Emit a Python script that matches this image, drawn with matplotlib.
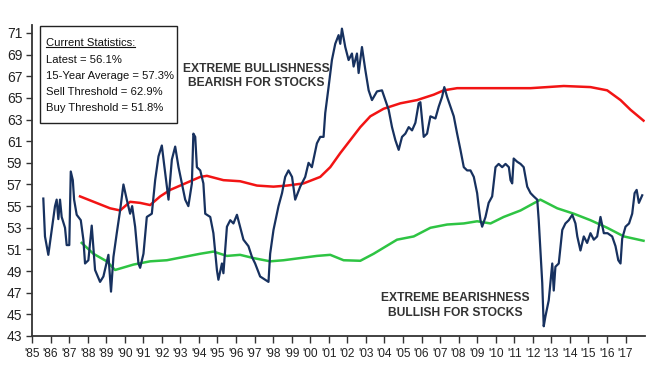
import matplotlib
matplotlib.use("Agg")
import matplotlib.pyplot as plt
from matplotlib import font_manager

# sentiment series (percent)
years = [1985.61, 1985.70, 1985.88, 1986.24, 1986.33, 1986.42, 1986.51, 1986.60, 1986.78, 1986.87,
         1987.01, 1987.09, 1987.20, 1987.27, 1987.41, 1987.63, 1987.77, 1987.86, 1988.04, 1988.22,
         1988.40, 1988.67, 1988.85, 1989.12, 1989.26, 1989.39, 1989.57, 1989.75, 1989.93, 1990.11,
         1990.29, 1990.40, 1990.56, 1990.74, 1990.83, 1991.01, 1991.19, 1991.46, 1991.64, 1991.82,
         1992.00, 1992.12, 1992.36, 1992.54, 1992.72, 1992.90, 1993.08, 1993.26, 1993.43, 1993.62,
         1993.70, 1993.80, 1993.89, 1994.07, 1994.24, 1994.34, 1994.61, 1994.78, 1994.97, 1995.05,
         1995.24, 1995.32, 1995.51, 1995.69, 1995.86, 1996.05, 1996.22, 1996.40, 1996.67, 1996.86,
         1997.03, 1997.30, 1997.57, 1997.75, 1997.84, 1998.02, 1998.29, 1998.48, 1998.65, 1998.83,
         1999.02, 1999.19, 1999.46, 1999.73, 1999.91, 2000.09, 2000.36, 2000.54, 2000.72, 2000.81,
         2000.99, 2001.17, 2001.35, 2001.53, 2001.62, 2001.71, 2001.89, 2002.07, 2002.25, 2002.34,
         2002.52, 2002.61, 2002.79, 2002.97, 2003.15, 2003.33, 2003.60, 2003.87, 2004.05, 2004.23,
         2004.41, 2004.59, 2004.77, 2004.95, 2005.13, 2005.31, 2005.49, 2005.67, 2005.85, 2005.94,
         2006.12, 2006.30, 2006.48, 2006.75, 2006.93, 2007.11, 2007.23, 2007.38, 2007.56, 2007.74,
         2007.92, 2008.10, 2008.28, 2008.46, 2008.64, 2008.82, 2009.00, 2009.08, 2009.18, 2009.27,
         2009.45, 2009.62, 2009.81, 2009.99, 2010.16, 2010.35, 2010.53, 2010.71, 2010.80, 2010.89,
         2010.97, 2011.16, 2011.34, 2011.51, 2011.70, 2011.88, 2012.05, 2012.24, 2012.32, 2012.41,
         2012.51, 2012.59, 2012.68, 2012.86, 2013.05, 2013.13, 2013.22, 2013.40, 2013.59, 2013.76,
         2013.94, 2014.13, 2014.30, 2014.40, 2014.57, 2014.75, 2014.93, 2015.11, 2015.29, 2015.47,
         2015.65, 2015.83, 2016.03, 2016.28, 2016.46, 2016.61, 2016.73, 2016.82, 2017.00, 2017.19,
         2017.36, 2017.49, 2017.60, 2017.72, 2017.90]
sentiment = [55.7, 52.2, 50.5, 55.0, 55.6, 53.8, 55.6, 54.0, 53.0, 51.4,
             51.4, 58.2, 57.4, 55.6, 54.2, 53.7, 51.9, 49.7, 50.0, 53.2,
             49.1, 48.0, 48.5, 50.5, 47.1, 50.3, 52.5, 54.6, 57.0, 55.6,
             54.3, 55.0, 53.1, 49.7, 49.3, 50.6, 54.0, 54.3, 57.4, 59.6,
             60.6, 58.9, 55.6, 59.3, 60.5, 58.6, 57.1, 55.6, 55.0, 57.1,
             61.7, 61.4, 58.6, 58.3, 57.1, 54.3, 54.0, 52.5, 49.1, 48.2,
             49.7, 48.8, 53.1, 53.7, 53.4, 54.2, 53.1, 51.9, 51.3, 50.3,
             49.7, 48.5, 48.2, 48.0, 50.6, 52.8, 55.0, 56.2, 57.7, 58.3,
             57.7, 55.6, 56.8, 57.7, 59.0, 58.6, 60.8, 61.4, 61.4, 63.6,
             66.0, 68.5, 70.0, 70.8, 70.0, 71.4, 69.7, 68.5, 69.1, 67.9,
             69.1, 67.3, 69.7, 67.6, 65.7, 64.8, 65.6, 65.7, 64.8, 63.9,
             62.3, 61.1, 60.2, 61.4, 61.7, 62.3, 62.0, 62.7, 64.5, 64.6,
             61.4, 61.7, 63.3, 63.1, 64.2, 65.1, 66.0, 65.1, 64.2, 63.3,
             61.7, 60.2, 58.6, 58.3, 58.3, 57.7, 56.2, 55.0, 53.7, 53.1,
             54.0, 55.3, 55.9, 58.6, 58.9, 58.6, 58.9, 58.6, 57.4, 57.1,
             59.4, 59.1, 58.9, 58.6, 56.8, 56.2, 55.9, 55.6, 53.7, 50.9,
             47.9, 43.9, 44.8, 46.3, 49.7, 47.2, 49.4, 49.7, 52.8, 53.4,
             53.7, 54.2, 53.4, 52.2, 50.9, 52.2, 51.6, 52.5, 51.9, 52.2,
             54.0, 52.5, 52.5, 52.2, 51.3, 50.0, 49.7, 52.0, 53.1, 53.4,
             54.3, 56.2, 56.5, 55.3, 56.0]

sell_years = [1987.59, 1989.21, 1989.75, 1990.29, 1990.83, 1991.37, 1991.91, 1992.45, 1992.99, 1993.53,
              1994.07, 1994.43, 1995.32, 1996.22, 1997.13, 1998.02, 1998.75, 1999.64, 2000.54, 2001.08,
              2001.62, 2002.16, 2002.70, 2003.24, 2003.96, 2004.86, 2005.76, 2006.66, 2007.20, 2007.92,
              2009.18, 2010.97, 2011.88, 2012.78, 2013.67, 2015.11, 2016.01, 2016.73, 2017.27, 2017.97]
sell_threshold = [55.9, 54.8, 54.6, 55.4, 55.3, 55.1, 55.9, 56.5, 56.9, 57.3,
                  57.7, 57.8, 57.4, 57.3, 56.9, 56.8, 56.9, 57.1, 57.7, 58.6,
                  59.9, 61.1, 62.3, 63.3, 64.0, 64.5, 64.8, 65.3, 65.7, 65.9,
                  65.9, 65.9, 65.9, 66.0, 66.1, 66.0, 65.7, 64.8, 63.9, 62.9]

buy_years = [1987.68, 1988.31, 1989.03, 1989.48, 1990.47, 1991.37, 1992.27, 1993.17, 1994.07, 1994.78,
             1995.51, 1996.22, 1996.94, 1997.84, 1998.56, 1999.46, 2000.36, 2001.08, 2001.80, 2002.70,
             2003.42, 2004.68, 2005.58, 2006.48, 2007.38, 2008.28, 2009.00, 2009.72, 2010.43, 2011.34,
             2012.41, 2013.32, 2014.21, 2015.11, 2016.01, 2016.91, 2017.97]
buy_threshold = [51.6, 50.6, 49.9, 49.1, 49.6, 49.9, 50.0, 50.3, 50.6, 50.8,
                 50.4, 50.5, 50.2, 49.9, 50.0, 50.2, 50.4, 50.5, 50.0, 49.95,
                 50.6, 51.9, 52.2, 53.0, 53.3, 53.4, 53.6, 53.4, 54.0, 54.6,
                 55.6, 54.8, 54.3, 53.7, 53.0, 52.2, 51.8]

tick_years = list(range(1985, 2018))
tick_labels = ["'%02d" % (y % 100) for y in tick_years]
y_ticks = list(range(43, 72, 2))

stats_title = "Current Statistics:"
stats_lines = ["Latest = 56.1%", "15-Year Average = 57.3%",
               "Sell Threshold = 62.9%", "Buy Threshold = 51.8%"]

names = {f.name for f in font_manager.fontManager.ttflist}
narrow = "Liberation Sans Narrow" if "Liberation Sans Narrow" in names else "Liberation Sans"
plt.rcParams["font.family"] = [narrow, "DejaVu Sans"]

fig = plt.figure(figsize=(6.63, 3.76), dpi=100)
ax = fig.add_axes([32 / 663, 40 / 376, 613 / 663, 310.6 / 376])

ax.plot(sell_years, sell_threshold, color="#f21414", lw=1.8, zorder=2)
ax.plot(buy_years, buy_threshold, color="#2ec443", lw=1.8, zorder=2)
ax.plot(years, sentiment, color="#17315f", lw=1.6, zorder=3)

ax.set_xlim(1985, 2018.05)
ax.set_ylim(43, 71.7)
ax.set_xticks(tick_years)
ax.set_xticklabels(tick_labels, fontsize=8.6, color="#222222")
ax.set_yticks(y_ticks)
ax.set_yticklabels([str(v) for v in y_ticks], fontsize=10, color="#222222")
ax.tick_params(axis="x", direction="out", length=5, width=1, pad=3.5, color="#333333")
ax.tick_params(axis="y", direction="out", length=4, width=1, pad=3, color="#333333")
for side in ["top", "right"]:
    ax.spines[side].set_visible(False)
for side in ["left", "bottom"]:
    ax.spines[side].set_color("#333333")
    ax.spines[side].set_linewidth(1.3)

# stats box
box = plt.Rectangle((39.5 / 663, 1 - 122.7 / 376), 137 / 663, 96.7 / 376,
                    transform=fig.transFigure, fill=True, facecolor="white",
                    edgecolor="#222222", lw=1.0, zorder=5)
fig.add_artist(box)
title = fig.text(45.5 / 663, 1 - 42.7 / 376, stats_title, fontsize=8.1, va="center",
                 ha="left", color="#111111", zorder=6)
for i, line in enumerate(stats_lines):
    fig.text(45.5 / 663, 1 - (60 + i * 16.1) / 376, line, fontsize=8.1, va="center",
             ha="left", color="#111111", zorder=6)

fig.canvas.draw()
bb = title.get_window_extent().transformed(fig.transFigure.inverted())
fig.add_artist(plt.Line2D([bb.x0, bb.x1], [bb.y0 + 0.002, bb.y0 + 0.002],
                          transform=fig.transFigure, color="#111111", lw=0.8, zorder=6))

fig.text(256.7 / 663, 1 - 75.8 / 376, "EXTREME BULLISHNESS\nBEARISH FOR STOCKS",
         fontsize=8.7, fontweight="bold", ha="center", va="center", color="#333333",
         linespacing=1.25)
fig.text(455 / 663, 1 - 305.5 / 376, "EXTREME BEARISHNESS\nBULLISH FOR STOCKS",
         fontsize=8.7, fontweight="bold", ha="center", va="center", color="#333333",
         linespacing=1.25)

fig.savefig("out.png", dpi=100)
